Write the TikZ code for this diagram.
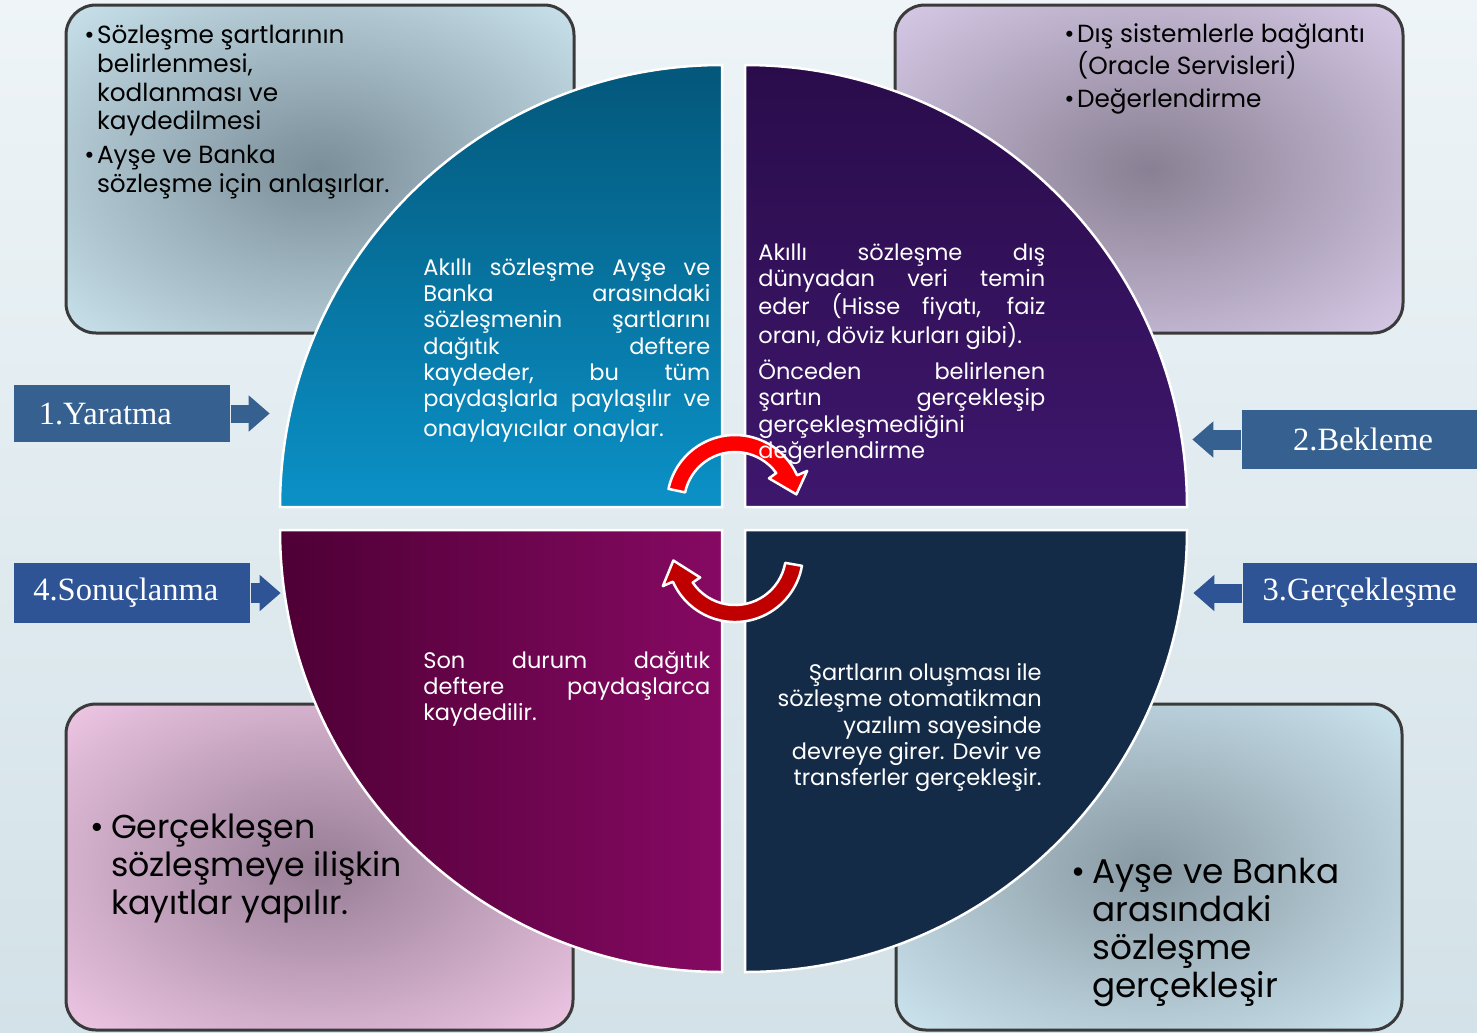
\documentclass[tikz,border=0pt]{standalone}
\usepackage{fontspec}
\setmainfont{Poppins}
\newfontfamily\tagfont{Liberation Serif}
\usetikzlibrary{arrows.meta}

\definecolor{bgtop}{HTML}{EEF4F7}
\definecolor{bgbot}{HTML}{D3E2E8}
\definecolor{tealtop}{HTML}{03577A}
\definecolor{tealbot}{HTML}{0B91C7}
\definecolor{violettop}{HTML}{2A0C4B}
\definecolor{violetbot}{HTML}{3E176D}
\definecolor{plumleft}{HTML}{4E0035}
\definecolor{plumright}{HTML}{860963}
\definecolor{navy}{HTML}{142B48}
\definecolor{tagblue}{HTML}{35608F}
\definecolor{tagblueb}{HTML}{2F5495}
\definecolor{rimgray}{HTML}{3A3A3A}
\definecolor{hotred}{HTML}{FF0000}
\definecolor{deepred}{HTML}{C00000}

% glow of the four note boxes
\pgfdeclareradialshading{glowTL}{\pgfpoint{0bp}{0bp}}{rgb(0bp)=(0.48,0.56,0.60); rgb(6bp)=(0.53,0.61,0.65); rgb(38bp)=(0.81,0.91,0.95); rgb(100bp)=(0.81,0.91,0.95)}
\pgfdeclareradialshading{glowTR}{\pgfpoint{0bp}{0bp}}{rgb(0bp)=(0.54,0.50,0.58); rgb(6bp)=(0.59,0.55,0.63); rgb(38bp)=(0.86,0.81,0.93); rgb(100bp)=(0.86,0.81,0.93)}
\pgfdeclareradialshading{glowBL}{\pgfpoint{0bp}{0bp}}{rgb(0bp)=(0.59,0.49,0.58); rgb(6bp)=(0.65,0.54,0.64); rgb(38bp)=(0.96,0.80,0.92); rgb(100bp)=(0.96,0.80,0.92)}
\pgfdeclareradialshading{glowBR}{\pgfpoint{0bp}{0bp}}{rgb(0bp)=(0.53,0.60,0.64); rgb(6bp)=(0.58,0.65,0.69); rgb(38bp)=(0.82,0.92,0.96); rgb(100bp)=(0.82,0.92,0.96)}

\newlength\quadw
\setlength\quadw{5.74cm}
\newcommand\jline[1]{\makebox[\quadw][s]{#1}}

\tikzset{
  noteframe/.style={draw=rimgray, line width=0.06cm, rounded corners=0.6cm},
  notetext/.style={inner sep=0, text=black},
  quarter/.style={draw=white, line width=0.05cm},
  quadtext/.style={text=white, inner sep=0, align=left, font=\fontsize{12.8}{15}\selectfont},
  tag/.style={fill=#1, text=white, inner sep=0, font=\tagfont\fontsize{18.5}{20}\selectfont},
  tagarrow/.style={draw=#1, -{Triangle[length=0.42cm,width=0.7cm]}},
  turnarrow/.style={draw=white, line width=0.05cm, line join=round}
}

\begin{document}
\begin{tikzpicture}[x=0.02cm, y=-0.02cm]
  \useasboundingbox (0,0) rectangle (1477,1032);
  \fill[top color=bgtop, bottom color=bgbot] (0,0) rectangle (1477,1032);

  % note boxes
  \draw[noteframe, shading=glowTL] (66,5) rectangle (574,333);
  \draw[noteframe, shading=glowTR] (895,5) rectangle (1403,333);
  \draw[noteframe, shading=glowBL] (66,704) rectangle (573,1030);
  \draw[noteframe, shading=glowBR] (896,704) rectangle (1402,1030);

  % the four quarters
  \draw[quarter, top color=tealtop, bottom color=tealbot] (722,507) -- (280,507) arc (180:270:442) -- cycle;
  \draw[quarter, top color=violettop, bottom color=violetbot] (745,507) -- (745,65) arc (270:360:442) -- cycle;
  \draw[quarter, fill=navy] (745,530) -- (1187,530) arc (0:90:442) -- cycle;
  \draw[quarter, left color=plumleft, right color=plumright] (722,530) -- (722,972) arc (90:180:442) -- cycle;

  % turning arrows
  \begin{scope}[shift={(735,503)}]
    \filldraw[turnarrow, fill=hotred] (192:68) arc (192:336:68) -- (336:79) -- (352:62) -- (324:42) -- (324:51) arc (324:192:51) -- cycle;
  \end{scope}
  \begin{scope}[shift={(735,554)}]
    \filldraw[turnarrow, fill=deepred] (10:51) arc (10:146:51) -- (146:42) -- (174:62) -- (156:79) -- (156:68) arc (156:10:68) -- cycle;
  \end{scope}

  % stage tags
  \node[tag=tagblue, minimum width=4.32cm, minimum height=1.14cm, anchor=west] (yaratma) at (14,413.5) {\hspace*{-0.68cm}1.Yaratma};
  \draw[tagarrow=tagblue, line width=0.36cm] (yaratma.east) -- ++(39,0);
  \node[tag=tagblue, minimum width=4.7cm, minimum height=1.18cm, anchor=east] (bekleme) at (1477,439.5) {\hspace*{0.16cm}2.Bekleme};
  \draw[tagarrow=tagblue, line width=0.4cm] (bekleme.west) -- ++(-49,0);
  \node[tag=tagblueb, minimum width=4.68cm, minimum height=1.2cm, anchor=east] (gerceklesme) at (1477,593) {3.Gerçekleşme};
  \draw[tagarrow=tagblueb, line width=0.38cm] (gerceklesme.west) -- ++(-49,0);
  \node[tag=tagblueb, minimum width=4.72cm, minimum height=1.2cm, anchor=west] (sonuclanma) at (14,593) {\hspace*{-0.26cm}4.Sonuçlanma};
  \draw[tagarrow=tagblueb, line width=0.4cm] (sonuclanma.east) -- ++(30,0);

  % quarter texts
  \node[quadtext, anchor=north west] (yaratmatext) at (423,258) {\jline{Akıllı sözleşme Ayşe ve}\\ \jline{Banka arasındaki}\\ \jline{sözleşmenin şartlarını}\\ \jline{dağıtık deftere}\\ \jline{kaydeder, bu tüm}\\ \jline{paydaşlarla paylaşılır ve}\\[0.06cm] onaylayıcılar onaylar.};
  \node[quadtext, anchor=north west] (beklemetext) at (758,243) {\jline{Akıllı sözleşme dış}\\ \jline{dünyadan veri temin}\\ \jline{eder (Hisse fiyatı, faiz}\\ oranı, döviz kurları gibi).\\[0.19cm] \jline{Önceden belirlenen}\\ \jline{şartın gerçekleşip}\\ gerçekleşmediğini\\ değerlendirme};
  \node[quadtext, anchor=north east, align=right] (gerceklesmetext) at (1042,663) {Şartların oluşması ile\\ sözleşme otomatikman\\ yazılım sayesinde\\ devreye girer. Devir ve\\ transferler gerçekleşir.};
  \node[quadtext, anchor=north west] (sonuclanmatext) at (423,651) {\jline{Son durum dağıtık}\\ \jline{deftere paydaşlarca}\\ kaydedilir.};

  % note texts
  \node[notetext, anchor=north west, font=\fontsize{14.1}{16.4}\selectfont] (yaratmanote) at (84,23) {\begin{tabular}{@{}l@{\hspace{0.05cm}}l@{}}
    •&Sözleşme şartlarının\\ &belirlenmesi,\\ &kodlanması ve\\ &kaydedilmesi\\[0.1cm]
    •&Ayşe ve Banka\\ &sözleşme için anlaşırlar.\end{tabular}};
  \node[notetext, anchor=north west, font=\fontsize{14.1}{16.4}\selectfont] (beklemenote) at (1064,22) {\begin{tabular}{@{}l@{\hspace{0.05cm}}l@{}}
    •&Dış sistemlerle bağlantı\\ &(Oracle Servisleri)\\[0.08cm]
    •&Değerlendirme\end{tabular}};
  \node[notetext, anchor=north west, font=\fontsize{18.9}{21.5}\selectfont] (sonuclanmanote) at (90,812) {\begin{tabular}{@{}l@{\hspace{0.14cm}}l@{}}
    •&Gerçekleşen\\ &sözleşmeye ilişkin\\ &kayıtlar yapılır.\end{tabular}};
  \node[notetext, anchor=north west, font=\fontsize{19.5}{21.5}\selectfont] (gerceklesmenote) at (1071,857) {\begin{tabular}{@{}l@{\hspace{0.14cm}}l@{}}
    •&Ayşe ve Banka\\ &arasındaki\\ &sözleşme\\ &gerçekleşir\end{tabular}};
\end{tikzpicture}
\end{document}
